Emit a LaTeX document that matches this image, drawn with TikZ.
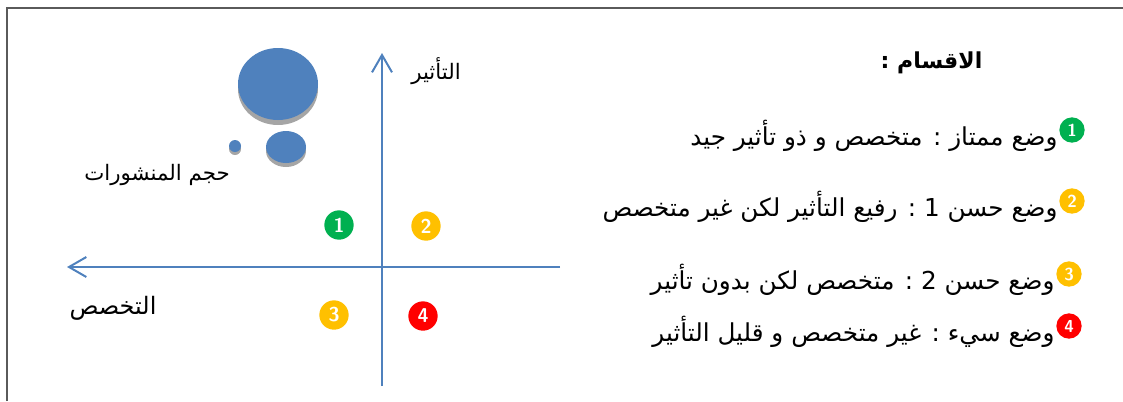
\documentclass[tikz,border=0pt]{standalone}
\usepackage{fontspec}
\TeXXeTstate=1
\newfontfamily\arabicfont[Script=Arabic]{DejaVu Sans}
\usetikzlibrary{arrows.meta, positioning}
\definecolor{axisblue}{RGB}{79, 129, 189}
\definecolor{shadowgray}{RGB}{165, 165, 165}
\definecolor{framegray}{RGB}{90, 90, 90}
\definecolor{badgegreen}{RGB}{0, 176, 80}
\definecolor{badgeamber}{RGB}{255, 192, 0}
\definecolor{badgered}{RGB}{255, 0, 0}
\newcommand{\artext}[1]{\arabicfont\beginR #1\endR}

\begin{document}
\begin{tikzpicture}[
    x=0.75pt, y=-0.75pt,
    axis/.style={axisblue, line width=1.5pt,
                 -{Straight Barb[length=13pt, width=15pt, line width=1.5pt]}},
    badge/.style={circle, inner sep=0pt, minimum size=22pt, text=white,
                  font=\sffamily\bfseries\fontsize{15}{15}\selectfont},
    keybadge/.style={badge, minimum size=19pt,
                     font=\sffamily\bfseries\fontsize{13}{13}\selectfont},
    lbl/.style={font=\fontsize{16}{18}\selectfont},
    item/.style={anchor=east, inner sep=1pt, font=\fontsize{18.5}{20}\selectfont},
    head/.style={anchor=east, font=\fontsize{16.5}{18}\selectfont\bfseries}
]
\useasboundingbox (0,0) rectangle (1123,401);
\draw[framegray, line width=1.5pt] (7,401) -- (7,8) -- (1123,8);

% axes
\coordinate (vbot) at (382,386);
\coordinate (vtop) at (382,53);
\coordinate (hright) at (560,267);
\coordinate (hleft) at (67,267);
\draw[axis] (vbot) -- (vtop);
\draw[axis] (hright) -- (hleft);

\node[lbl] (impact) at (436,71) {\artext{التأثير}};
\node[lbl, font=\fontsize{18}{20}\selectfont] (speciality) at (113,308) {\artext{التخصص}};
\node[lbl] (volume) at (157,175) {\artext{حجم المنشورات}};

% publication bubbles
\fill[shadowgray] (278,89) ellipse [x radius=30pt, y radius=27pt];
\fill[axisblue] (278,84) ellipse [x radius=30pt, y radius=27pt];
\fill[shadowgray] (286,151) ellipse [x radius=15pt, y radius=12pt];
\fill[axisblue] (286,147) ellipse [x radius=15pt, y radius=12pt];
\fill[shadowgray] (235,149) circle [radius=4.5pt];
\fill[axisblue] (235,146) circle [radius=4.5pt];

% quadrants
\node[badge, fill=badgegreen] (q1) at (339,225) {1};
\node[badge, fill=badgeamber] (q2) at (426,226) {2};
\node[badge, fill=badgeamber] (q3) at (334,315) {3};
\node[badge, fill=badgered] (q4) at (423,316) {4};

% legend
\node[head] (head) at (987,63) {\artext{الاقسام :}};
\node[keybadge, fill=badgegreen] (r1) at (1072,130) {1};
\node[keybadge, fill=badgeamber] (r2) at (1072,201) {2};
\node[keybadge, fill=badgeamber] (r3) at (1069,274) {3};
\node[keybadge, fill=badgered] (r4) at (1069,326) {4};
\node[item, left=0pt of r1, yshift=-4pt] (s1) {\artext{وضع ممتاز : متخصص و ذو تأثير جيد}};
\node[item, left=0pt of r2, yshift=-4pt] (s2) {\artext{وضع حسن 1 : رفيع التأثير لكن غير متخصص}};
\node[item, left=0pt of r3, yshift=-4pt] (s3) {\artext{وضع حسن 2 : متخصص لكن بدون تأثير}};
\node[item, left=0pt of r4, yshift=-4pt] (s4) {\artext{وضع سيء : غير متخصص و قليل التأثير}};
\end{tikzpicture}
\end{document}
